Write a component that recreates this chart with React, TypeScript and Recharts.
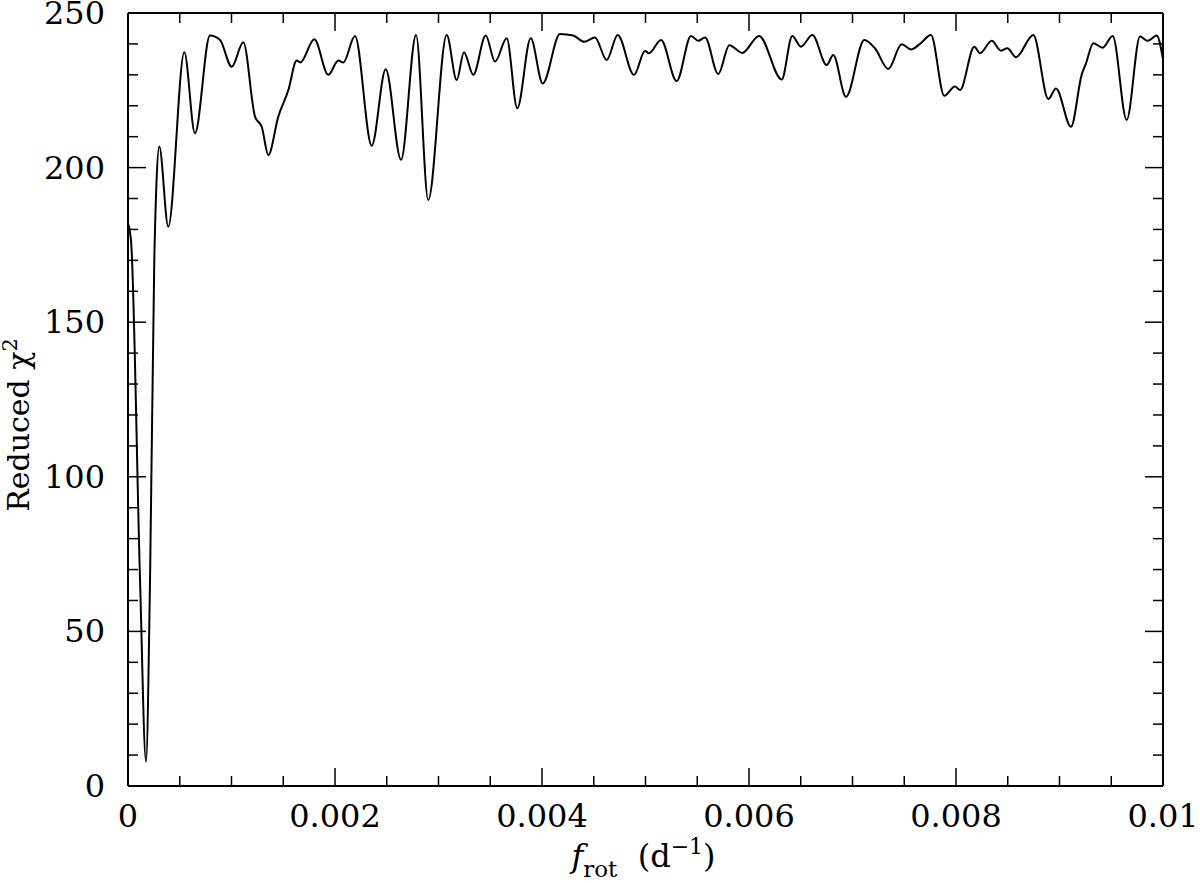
import { Line, LineChart, XAxis, YAxis } from "recharts";

const freq = [
  0, 0.00003, 0.000116, 0.000174, 0.000213, 0.000254, 0.000275, 0.000302, 0.000389, 0.000544,
  0.000647, 0.000792, 0.000889, 0.001002, 0.001114, 0.001227, 0.001292, 0.001356, 0.001452, 0.001549,
  0.00163, 0.001665, 0.0018, 0.001935, 0.002032, 0.00208, 0.002193, 0.002355, 0.00249, 0.002638,
  0.002783, 0.002901, 0.003079, 0.003176, 0.003246, 0.003336, 0.003456, 0.003546, 0.003659, 0.003761,
  0.003891, 0.004007, 0.004174, 0.004302, 0.004409, 0.004512, 0.004625, 0.004731, 0.004889, 0.004995,
  0.005034, 0.00515, 0.005301, 0.00544, 0.00551, 0.005575, 0.005703, 0.00581, 0.005935, 0.006097,
  0.006316, 0.006418, 0.006502, 0.006612, 0.006751, 0.006814, 0.006937, 0.007114, 0.007217, 0.007346,
  0.007475, 0.007565, 0.007652, 0.007758, 0.007887, 0.00799, 0.008039, 0.008177, 0.008232, 0.008345,
  0.008435, 0.008496, 0.00858, 0.008747, 0.008892, 0.008966, 0.009111, 0.009214, 0.009256, 0.009327,
  0.009417, 0.009514, 0.009649, 0.009778, 0.009852, 0.009939, 0.01,
];

const chi2 = [
  182, 176, 67, 7.8, 67, 170, 195, 206.8, 180.9, 237.3,
  211.1, 242.7, 241.3, 232.6, 240.5, 216.5, 213.2, 204.1, 216.5, 225,
  234.6, 234, 241.5, 230, 234.6, 234, 242.6, 207.1, 231.8, 202.5,
  242.9, 189.5, 242.9, 228.3, 237.3, 230, 242.7, 234.3, 241.8, 219.2,
  241.8, 227.2, 243.2, 242.7, 240.7, 242.1, 234.8, 242.9, 230, 237.7,
  237, 241.3, 228, 242.6, 241, 242.1, 230.3, 239.6, 237.1, 242.6,
  228.5, 242.6, 239.1, 242.9, 233.2, 236.4, 222.9, 241.3, 238.6, 231.9,
  239.9, 238.2, 240, 242.9, 223.2, 226.2, 225.1, 239.1, 237, 241,
  237.8, 238.6, 235.7, 242.9, 222.2, 225.6, 213.2, 230, 233.7, 240.2,
  238.8, 242.6, 215.4, 242.4, 241, 242.7, 235,
];

const xTicks = [
  0, 0.0005, 0.001, 0.0015, 0.002, 0.0025, 0.003, 0.0035, 0.004, 0.0045, 0.005,
  0.0055, 0.006, 0.0065, 0.007, 0.0075, 0.008, 0.0085, 0.009, 0.0095, 0.01,
];
const xLabels: Record<string, string> = {
  "0": "0", "0.002": "0.002", "0.004": "0.004", "0.006": "0.006", "0.008": "0.008", "0.01": "0.01",
};

const yTicks = [
  0, 10, 20, 30, 40, 50, 60, 70, 80, 90, 100, 110, 120, 130, 140, 150, 160, 170, 180, 190, 200,
  210, 220, 230, 240, 250,
];
const yLabels = [0, 50, 100, 150, 200, 250];

const data = freq.map((f, i) => ({ f, chi: chi2[i] }));

const FONT = "'DejaVu Serif', serif";
const MAJOR = 18;
const MINOR = 10;

const isMajorX = (v: number) => xLabels[String(v)] !== undefined;
const isMajorY = (v: number) => yLabels.includes(v);

const BottomTick = (props: any) => {
  const { x, y, payload } = props;
  const major = isMajorX(payload.value);
  return (
    <g>
      <line x1={x} x2={x} y1={y} y2={y - (major ? MAJOR : MINOR)} stroke="#000" strokeWidth={1.5} />
      {major && (
        <text x={x} y={y + 41} textAnchor="middle" fontFamily={FONT} fontSize={32} fill="#000">
          {xLabels[String(payload.value)]}
        </text>
      )}
    </g>
  );
};

const TopTick = (props: any) => {
  const { x, y, payload } = props;
  const major = isMajorX(payload.value);
  return <line x1={x} x2={x} y1={y} y2={y + (major ? MAJOR : MINOR)} stroke="#000" strokeWidth={1.5} />;
};

const LeftTick = (props: any) => {
  const { x, y, payload } = props;
  const major = isMajorY(payload.value);
  return (
    <g>
      <line x1={x} x2={x + (major ? MAJOR : MINOR)} y1={y} y2={y} stroke="#000" strokeWidth={1.5} />
      {major && (
        <text x={x - 23} y={y + 11} textAnchor="end" fontFamily={FONT} fontSize={32} fill="#000">
          {payload.value}
        </text>
      )}
    </g>
  );
};

const RightTick = (props: any) => {
  const { x, y, payload } = props;
  const major = isMajorY(payload.value);
  return <line x1={x} x2={x - (major ? MAJOR : MINOR)} y1={y} y2={y} stroke="#000" strokeWidth={1.5} />;
};

const XTitle = (props: any) => {
  const { viewBox } = props;
  const cx = viewBox.x + viewBox.width / 2 - 2;
  return (
    <text x={cx} y={867} textAnchor="middle" fontFamily={FONT} fontSize={32} fill="#000">
      <tspan fontStyle="italic">f</tspan>
      <tspan fontSize={23} dy={10}>rot</tspan>
      <tspan dy={-10}>{"\u00a0\u00a0(d"}</tspan>
      <tspan fontSize={22} dy={-13}>{"\u22121"}</tspan>
      <tspan dy={13}>)</tspan>
    </text>
  );
};

const YTitle = () => (
  <text
    x={0}
    y={0}
    transform="translate(29, 425) rotate(-90)"
    textAnchor="middle"
    fontFamily={FONT}
    fontSize={30}
    fill="#000"
  >
    <tspan>{"Reduced\u00a0\u03c7"}</tspan>
    <tspan fontSize={21} dy={-12}>2</tspan>
  </text>
);

const App = () => {
  const axisLine = { stroke: "#000", strokeWidth: 2 };
  return (
    <div style={{ position: "absolute", left: 0, top: 0, width: 1200, height: 883, background: "#fff" }}>
      <LineChart width={1200} height={883} data={data} margin={{ top: 0, right: 0, bottom: 0, left: 0 }}>
        <XAxis
          xAxisId="b"
          dataKey="f"
          type="number"
          orientation="bottom"
          domain={[0, 0.01]}
          ticks={xTicks}
          interval={0}
          height={97}
          tickSize={0}
          tickMargin={0}
          tickLine={false}
          axisLine={axisLine}
          tick={(p: any) => <BottomTick {...p} />}
          allowDataOverflow
          label={(p: any) => <XTitle {...p} />}
        />
        <XAxis
          xAxisId="t"
          dataKey="f"
          type="number"
          orientation="top"
          domain={[0, 0.01]}
          ticks={xTicks}
          interval={0}
          height={13}
          tickSize={0}
          tickMargin={0}
          tickLine={false}
          axisLine={axisLine}
          tick={(p: any) => <TopTick {...p} />}
          allowDataOverflow
        />
        <YAxis
          yAxisId="l"
          type="number"
          domain={[0, 250]}
          ticks={yTicks}
          interval={0}
          width={128}
          tickSize={0}
          tickMargin={0}
          tickLine={false}
          axisLine={axisLine}
          tick={(p: any) => <LeftTick {...p} />}
          allowDataOverflow
          label={() => <YTitle />}
        />
        <YAxis
          yAxisId="r"
          type="number"
          orientation="right"
          domain={[0, 250]}
          ticks={yTicks}
          interval={0}
          width={37}
          tickSize={0}
          tickMargin={0}
          tickLine={false}
          axisLine={axisLine}
          tick={(p: any) => <RightTick {...p} />}
          allowDataOverflow
        />
        <Line
          xAxisId="b"
          yAxisId="l"
          dataKey="chi"
          type="monotone"
          stroke="#000"
          strokeWidth={2}
          dot={false}
          isAnimationActive={false}
        />
      </LineChart>
    </div>
  );
};

export default App;
